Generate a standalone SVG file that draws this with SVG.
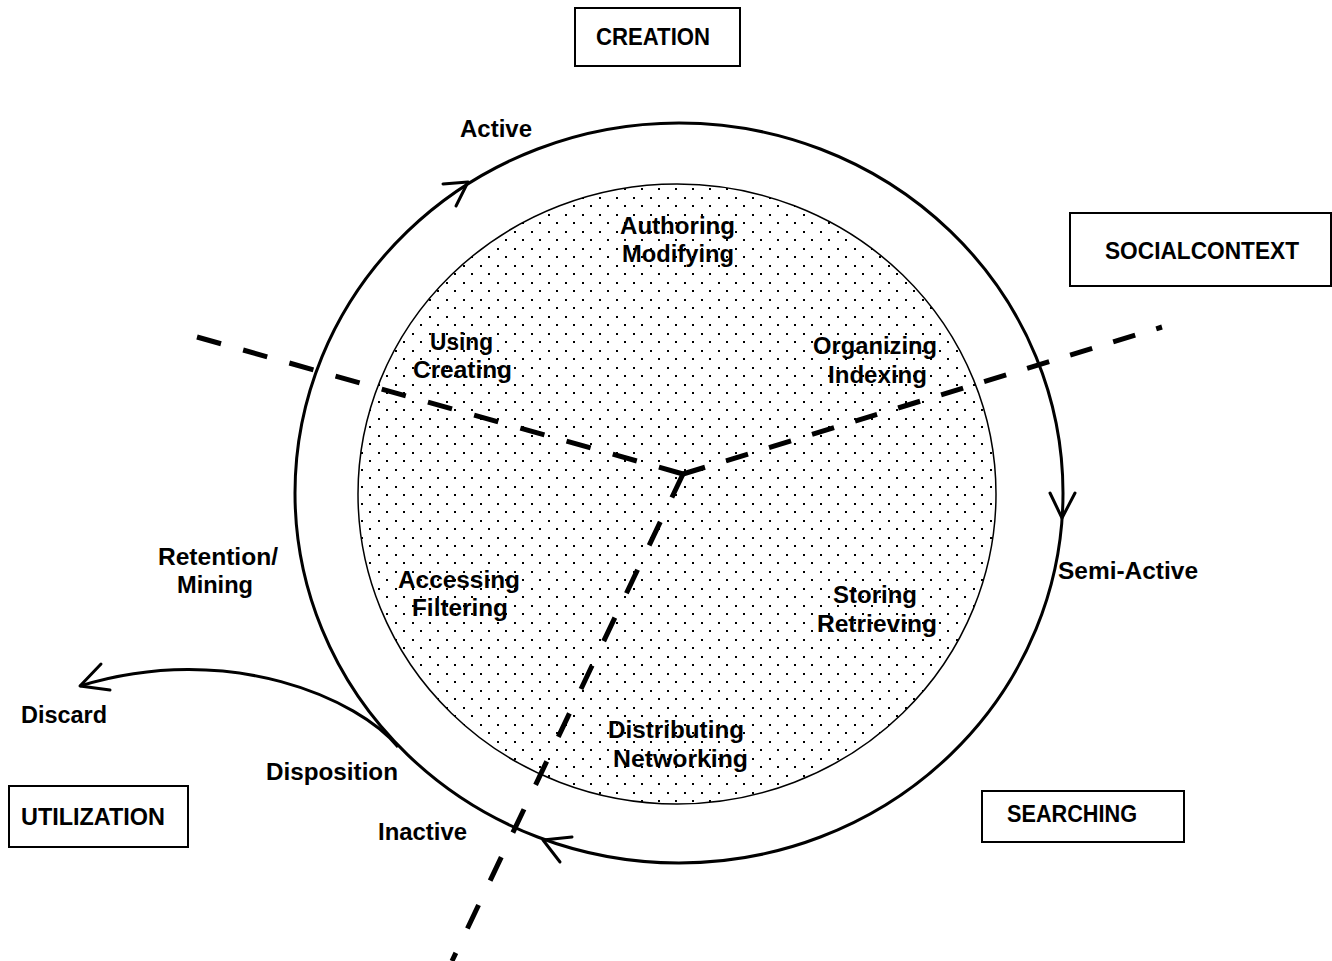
<svg xmlns="http://www.w3.org/2000/svg" width="1332" height="961" viewBox="0 0 1332 961">
<style>
  text { font-family: "Liberation Sans", Arial, sans-serif; font-weight: bold; font-size: 23px; fill: #000; }
  .box { fill: #fff; stroke: #000; stroke-width: 2; }
  .ring { fill: none; stroke: #000; stroke-width: 3; }
  .core { fill: url(#dots); stroke: #000; stroke-width: 1.5; }
  .dash { fill: none; stroke: #000; stroke-width: 5; }
  .head { fill: none; stroke: #000; stroke-width: 3; stroke-linecap: round; stroke-linejoin: round; }
  .flow { fill: none; stroke: #000; stroke-width: 3; }
</style>
<defs>
  <pattern id="dots" patternUnits="userSpaceOnUse" x="4" y="10" width="17" height="17">
    <rect x="0" y="0" width="2" height="2" fill="#000"/>
    <rect x="8" y="8" width="2" height="2" fill="#000"/>
  </pattern>
</defs>
<rect width="1332" height="961" fill="#fff"/>

<g id="core-circle">
  <ellipse class="core" cx="677" cy="494" rx="319" ry="310"/>
</g>

<g id="lifecycle-ring">
  <ellipse class="ring" cx="679" cy="493" rx="384" ry="370"/>
</g>

<g id="connectors">
  <path class="dash" d="M683 474 L197 337" stroke-dasharray="25 23"/>
  <path class="dash" d="M683 474 L1162 327" stroke-dasharray="23 22"/>
  <path class="dash" d="M683 474 L452 961" stroke-dasharray="26 27"/>
  <path class="flow" d="M398 747 C360 700 230 640 80 686"/>
  <polyline class="head" points="101,664 80,686 110,690"/>
  <polyline class="head" points="443,184 468,182 456,206"/>
  <polyline class="head" points="1050,493 1062,518 1075,493"/>
  <polyline class="head" points="572,837 543,840 560,862"/>
</g>

<g id="creation"><rect class="box" x="575" y="8" width="165" height="58"/><text x="596" y="45" textLength="114" lengthAdjust="spacingAndGlyphs">CREATION</text></g>
<g id="social-context"><rect class="box" x="1070" y="213" width="261" height="73"/><text x="1105" y="259" textLength="194" lengthAdjust="spacingAndGlyphs">SOCIALCONTEXT</text></g>
<g id="searching"><rect class="box" x="982" y="791" width="202" height="51"/><text x="1007" y="822" textLength="130" lengthAdjust="spacingAndGlyphs">SEARCHING</text></g>
<g id="utilization"><rect class="box" x="9" y="786" width="179" height="61"/><text x="21" y="825" textLength="144" lengthAdjust="spacingAndGlyphs">UTILIZATION</text></g>

<g id="active"><text x="460" y="137" textLength="72" lengthAdjust="spacingAndGlyphs">Active</text></g>
<g id="semi-active"><text x="1058" y="579" textLength="140" lengthAdjust="spacingAndGlyphs">Semi-Active</text></g>
<g id="inactive"><text x="378" y="840" textLength="89" lengthAdjust="spacingAndGlyphs">Inactive</text></g>
<g id="disposition"><text x="266" y="780" textLength="132" lengthAdjust="spacingAndGlyphs">Disposition</text></g>
<g id="discard"><text x="21" y="723" textLength="86" lengthAdjust="spacingAndGlyphs">Discard</text></g>
<g id="retention"><text x="158" y="565" textLength="120" lengthAdjust="spacingAndGlyphs">Retention/</text><text x="177" y="593" textLength="76" lengthAdjust="spacingAndGlyphs">Mining</text></g>

<g id="authoring"><text x="620" y="234" textLength="115" lengthAdjust="spacingAndGlyphs">Authoring</text><text x="622" y="262" textLength="112" lengthAdjust="spacingAndGlyphs">Modifying</text></g>
<g id="using"><text x="430" y="350" textLength="63" lengthAdjust="spacingAndGlyphs">Using</text><text x="413" y="378" textLength="99" lengthAdjust="spacingAndGlyphs">Creating</text></g>
<g id="organizing"><text x="813" y="354" textLength="124" lengthAdjust="spacingAndGlyphs">Organizing</text><text x="828" y="383" textLength="99" lengthAdjust="spacingAndGlyphs">Indexing</text></g>
<g id="accessing"><text x="398" y="588" textLength="122" lengthAdjust="spacingAndGlyphs">Accessing</text><text x="412" y="616" textLength="96" lengthAdjust="spacingAndGlyphs">Filtering</text></g>
<g id="storing"><text x="833" y="603" textLength="84" lengthAdjust="spacingAndGlyphs">Storing</text><text x="817" y="632" textLength="120" lengthAdjust="spacingAndGlyphs">Retrieving</text></g>
<g id="distributing"><text x="608" y="738" textLength="136" lengthAdjust="spacingAndGlyphs">Distributing</text><text x="613" y="767" textLength="135" lengthAdjust="spacingAndGlyphs">Networking</text></g>
</svg>
